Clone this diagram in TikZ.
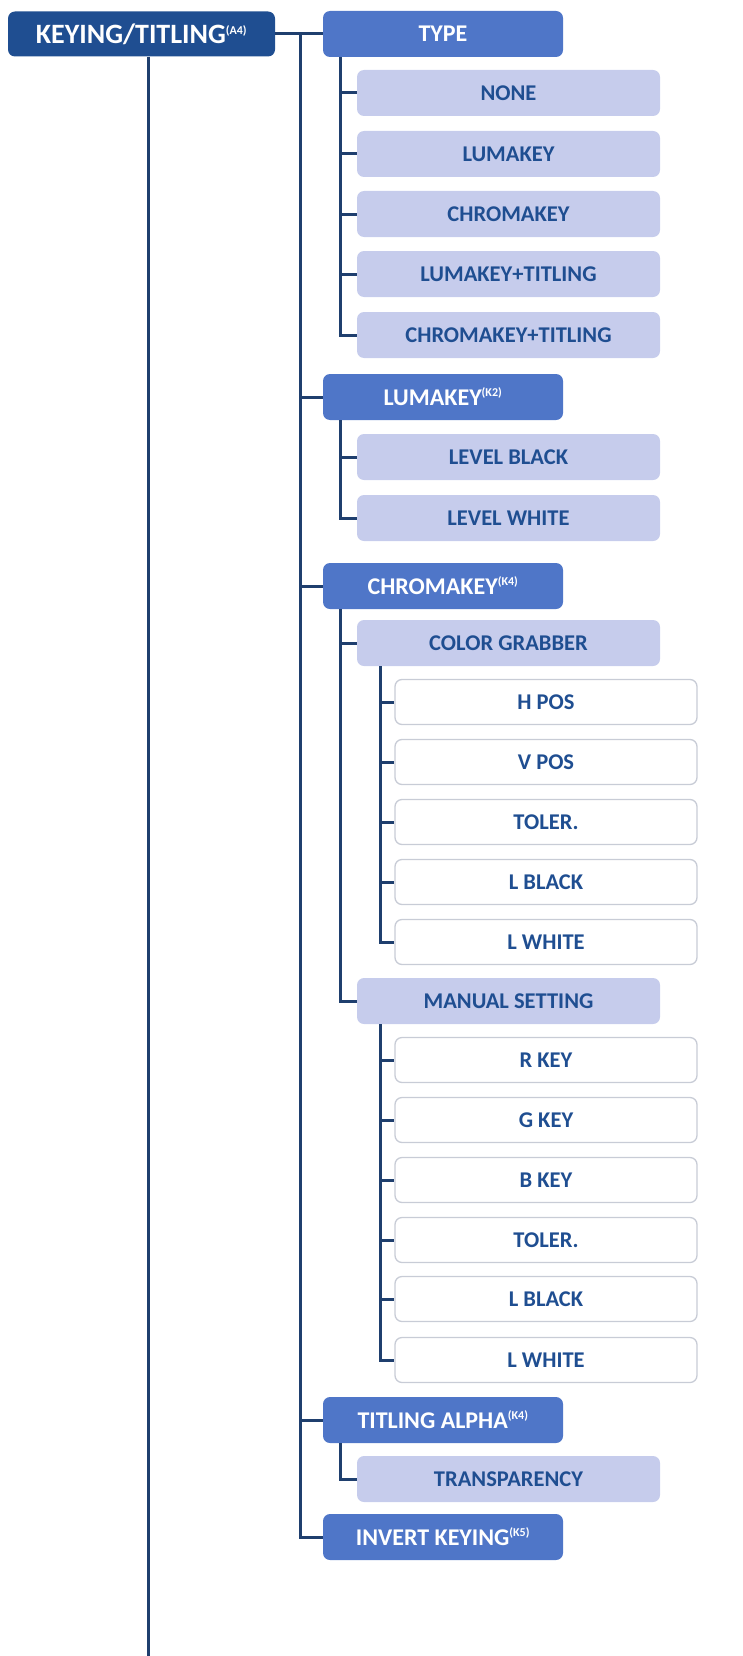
\documentclass[tikz,border=0pt]{standalone}
\usepackage{fontspec}
\setmainfont{Carlito}
\definecolor{rootc}{HTML}{1F4E91}
\definecolor{l1c}{HTML}{4F76C8}
\definecolor{l2c}{HTML}{C6CCEC}
\definecolor{txtc}{HTML}{1F4E91}
\definecolor{linec}{HTML}{1F3F6E}
\definecolor{bordc}{HTML}{C8CCD6}
\begin{document}
\begin{tikzpicture}[x=1pt,y=-1pt,
  rootbox/.style={fill=rootc,rounded corners=7pt,minimum width=267pt,minimum height=45pt,text=white,font=\bfseries\fontsize{28}{32}\selectfont,inner sep=0pt},
  lonebox/.style={fill=l1c,rounded corners=7pt,minimum width=240pt,minimum height=46pt,text=white,font=\bfseries\fontsize{24}{28}\selectfont,inner sep=0pt},
  ltwobox/.style={fill=l2c,rounded corners=7pt,minimum width=303pt,minimum height=46pt,text=txtc,font=\bfseries\fontsize{22.5}{26}\selectfont,inner sep=0pt},
  lthreebox/.style={fill=white,draw=bordc,line width=1.3pt,rounded corners=7pt,minimum width=302pt,minimum height=45pt,text=txtc,font=\bfseries\fontsize{22.5}{26}\selectfont,inner sep=0pt},
  conn/.style={draw=linec,line width=3pt}]
\useasboundingbox (0,0) rectangle (742,1656);
\newcommand{\sps}[1]{\textsuperscript{\fontsize{12}{13}\selectfont #1}}
% root
\node[rootbox] (root) at (141.5,34) {KEYING/TITLING\sps{(A4)}};
% level1
\node[lonebox] (type) at (443,34) {TYPE};
\node[lonebox] (luma) at (443,397) {LUMAKEY\sps{(K2)}};
\node[lonebox] (chroma) at (443,586) {CHROMAKEY\sps{(K4)}};
\node[lonebox] (talpha) at (443,1420) {TITLING ALPHA\sps{(K4)}};
\node[lonebox] (inv) at (443,1537) {INVERT KEYING\sps{(K5)}};
% level2
\foreach \n/\y/\t in {none/93/NONE, lk/154/LUMAKEY, ck/214/CHROMAKEY, lkt/274/LUMAKEY+TITLING, ckt/335/CHROMAKEY+TITLING, lb/457/LEVEL BLACK, lw/518/LEVEL WHITE, cg/643/COLOR GRABBER, ms/1001/MANUAL SETTING, tr/1479/TRANSPARENCY}
  \node[ltwobox] (\n) at (508.5,\y) {\t};
% level3
\foreach \n/\y/\t in {hp/702/H POS, vp/762/V POS, tl/822/TOLER., lbk/882/L BLACK, lwh/942/L WHITE, rk/1060/R KEY, gk/1120/G KEY, bk/1180/B KEY, tl2/1240/TOLER., lbk2/1299/L BLACK, lwh2/1360/L WHITE}
  \node[lthreebox] (\n) at (546,\y) {\t};
% connectors
\coordinate (rootend) at (148,1656);
\draw[conn] (root.south -| rootend) -- (rootend);
\draw[conn] (root.east) -- (type.west);
\coordinate (spine) at (300,34);
\draw[conn] (spine) |- (inv.west);
\foreach \n in {luma,chroma,talpha} \draw[conn] (spine |- \n.west) -- (\n.west);
% level2 connectors
\coordinate (tsp) at (340,0);
\draw[conn] (tsp |- type.south) |- (ckt.west);
\foreach \n in {none,lk,ck,lkt} \draw[conn] (tsp |- \n.west) -- (\n.west);
\draw[conn] (tsp |- luma.south) |- (lw.west);
\draw[conn] (tsp |- lb.west) -- (lb.west);
\draw[conn] (tsp |- chroma.south) |- (ms.west);
\draw[conn] (tsp |- cg.west) -- (cg.west);
\draw[conn] (tsp |- talpha.south) |- (tr.west);
% level3 connectors
\coordinate (gsp) at (380,0);
\draw[conn] (gsp |- cg.south) |- (lwh.west);
\foreach \n in {hp,vp,tl,lbk} \draw[conn] (gsp |- \n.west) -- (\n.west);
\draw[conn] (gsp |- ms.south) |- (lwh2.west);
\foreach \n in {rk,gk,bk,tl2,lbk2} \draw[conn] (gsp |- \n.west) -- (\n.west);
\end{tikzpicture}
\end{document}
